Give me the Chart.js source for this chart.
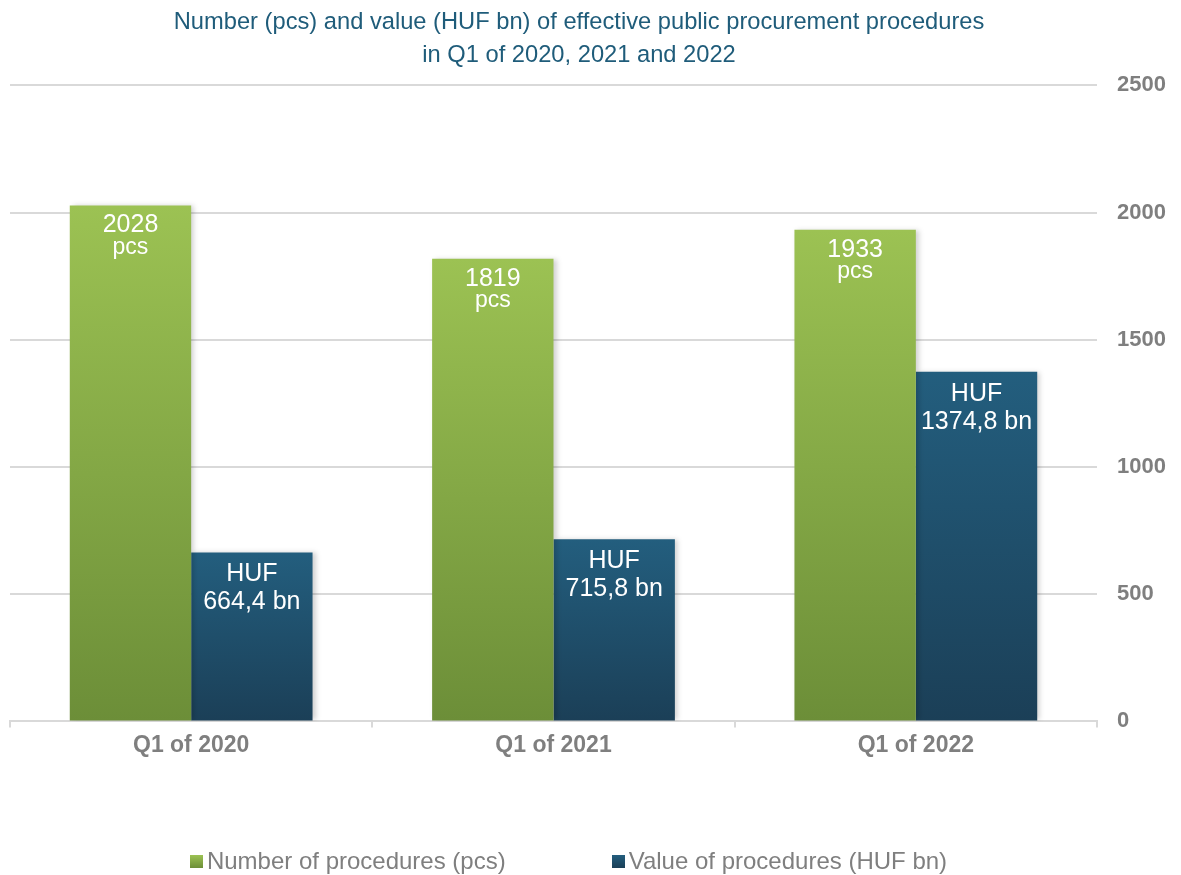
<!DOCTYPE html>
<html>
<head>
<meta charset="utf-8">
<script src="https://cdn.jsdelivr.net/npm/chart.js@4"></script>
<style>
  body { margin: 0; background: #fff; }
  #wrap { position: relative; width: 1181px; height: 875px; }
  #legend { position: absolute; left: 0; top: 847px; width: 1137px; display: flex; justify-content: center; gap: 106px;
            font-family: "Liberation Sans", Arial, sans-serif; font-size: 24px; color: #7f7f7f; }
  #legend span.box { display: inline-block; width: 13px; height: 13px; margin-right: 4px; vertical-align: 1px; }
</style>
</head>
<body>
<div id="wrap">
  <canvas id="chart" width="1181" height="875"></canvas>
  <div id="legend"></div>
</div>
<script>
const categories = ["Q1 of 2020", "Q1 of 2021", "Q1 of 2022"];
const procedureCounts = [2028, 1819, 1933];
const procedureValues = [664.4, 715.8, 1374.8];
const seriesNames = ["Number of procedures (pcs)", "Value of procedures (HUF bn)"];
const yTicks = [0, 500, 1000, 1500, 2000, 2500];

const greenTop = '#9cc253', greenBottom = '#6c8e38';
const blueTop = '#235e7e', blueBottom = '#1b3f57';
const FONT = '"Liberation Sans", Arial, sans-serif';

function barGradient(top, bottom) {
    return function (context) {
        const chart = context.chart;
        if (!chart.chartArea || context.type !== 'data') return top;
        const y = chart.scales.y;
        const yTop = y.getPixelForValue(context.raw);
        const yBase = y.getPixelForValue(0);
        if (!isFinite(yTop) || yTop === yBase) return top;
        const g = chart.ctx.createLinearGradient(0, yTop, 0, yBase);
        g.addColorStop(0, top);
        g.addColorStop(1, bottom);
        return g;
    };
}

function fmt(v) {
    return v.toFixed(1).replace('.', ',');
}

// feliratok a bárok tetején
const barLabels = {
    id: 'barLabels',
    afterDatasetsDraw(chart) {
        const ctx = chart.ctx;
        ctx.save();
        ctx.fillStyle = '#ffffff';
        ctx.textAlign = 'center';
        ctx.textBaseline = 'middle';
        chart.getDatasetMeta(0).data.forEach((el, i) => {
            ctx.font = '25px ' + FONT;
            ctx.fillText(String(procedureCounts[i]), el.x, el.y + 20);
            ctx.font = '23px ' + FONT;
            ctx.fillText('pcs', el.x, el.y + 42);
        });
        chart.getDatasetMeta(1).data.forEach((el, i) => {
            ctx.font = '25px ' + FONT;
            ctx.fillText('HUF', el.x, el.y + 22);
            ctx.fillText(fmt(procedureValues[i]) + ' bn', el.x, el.y + 50);
        });
        ctx.restore();
    }
};

// enyhe árnyék a bárok mögött
const barShadow = {
    id: 'barShadow',
    beforeDatasetsDraw(chart) {
        const ctx = chart.ctx;
        ctx.save();
        ctx.shadowColor = 'rgba(0,0,0,0.18)';
        ctx.shadowBlur = 5;
        ctx.shadowOffsetX = 3;
        ctx.shadowOffsetY = 0;
    },
    afterDatasetsDraw(chart) {
        chart.ctx.restore();
    }
};

const legend = document.getElementById('legend');
[[greenTop, greenBottom], [blueTop, blueBottom]].forEach((c, i) => {
    const item = document.createElement('div');
    const box = document.createElement('span');
    box.className = 'box';
    box.style.background = 'linear-gradient(' + c[0] + ',' + c[1] + ')';
    item.appendChild(box);
    item.appendChild(document.createTextNode(seriesNames[i]));
    legend.appendChild(item);
});

// a cím kicsit balra tolva (záró szóközökkel), mint az eredetin
const titleLines = ['Number (pcs) and value (HUF bn) of effective public procurement procedures', 'in Q1 of 2020, 2021 and 2022']
    .map(s => s + '     ');

const ctx = document.getElementById('chart').getContext('2d');
new Chart(ctx, {
    type: 'bar',
    data: {
        labels: categories,
        datasets: [{
            label: seriesNames[0],
            data: procedureCounts,
            backgroundColor: barGradient(greenTop, greenBottom),
            barPercentage: 1,
            categoryPercentage: 0.67
        }, {
            label: seriesNames[1],
            data: procedureValues,
            backgroundColor: barGradient(blueTop, blueBottom),
            barPercentage: 1,
            categoryPercentage: 0.67
        }]
    },
    options: {
        responsive: false,
        animation: false,
        layout: { padding: { left: 10, right: 0, top: 0, bottom: 112 } },
        plugins: {
            legend: { display: false },
            tooltip: { enabled: false },
            title: {
                display: true,
                text: titleLines,
                color: '#1f5c7a',
                font: { family: FONT, size: 23.7, weight: 'normal', lineHeight: 1.38 },
                padding: { top: 6, bottom: 14 }
            }
        },
        scales: {
            x: {
                grid: { display: true, drawOnChartArea: false, drawTicks: true, tickLength: 6, color: '#d9d9d9', lineWidth: 2, offset: true },
                border: { color: '#d9d9d9', width: 2 },
                ticks: { color: '#7f7f7f', font: { family: FONT, size: 23, weight: 'bold' }, padding: 4 }
            },
            y: {
                position: 'right',
                min: 0,
                max: 2500,
                afterBuildTicks: axis => { axis.ticks = yTicks.map(v => ({ value: v })); },
                afterFit: axis => { axis.width = 84; },
                grid: { color: '#d9d9d9', lineWidth: 2, drawTicks: false },
                border: { display: false },
                ticks: { color: '#7f7f7f', font: { family: FONT, size: 22, weight: 'bold' }, padding: 20, callback: v => String(v) }
            }
        }
    },
    plugins: [barShadow, barLabels]
});
</script>
</body>
</html>
